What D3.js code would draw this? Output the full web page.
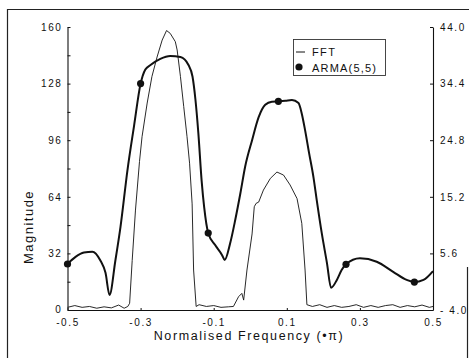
<!DOCTYPE html>
<html><head><meta charset="utf-8">
<script src="https://cdn.jsdelivr.net/npm/d3@7"></script>
<style>
html,body{margin:0;padding:0;background:#fff;}
svg{display:block;font-family:"Liberation Sans",Arial,sans-serif;}
</style></head>
<body><svg id="c" width="469" height="358"></svg>
<script>
// ---- data ----
const armaFreq = [-0.5,-0.478,-0.455,-0.432,-0.41,-0.396,-0.385,-0.369,-0.355,-0.336,-0.318,-0.3,-0.287,-0.273,-0.246,-0.219,-0.191,-0.169,-0.158,-0.15,-0.142,-0.133,-0.126,-0.115,-0.096,-0.077,-0.07,-0.055,-0.041,-0.027,-0.014,0.005,0.023,0.041,0.059,0.077,0.096,0.114,0.132,0.141,0.15,0.161,0.173,0.182,0.196,0.21,0.221,0.237,0.25,0.262,0.3,0.346,0.391,0.428,0.449,0.474,0.5];
const armaMag  = [26,30,32.5,33,28,21,8.5,28,47,79,104,128,136,138.5,142,143.6,143,138.5,132,119,100,73,58,43.5,36.7,31,28.3,37.7,51,66,81,96,109,116,117.8,118,118.3,118.7,117,111,101.7,88.7,75,62,43,26.4,12.6,17,22.6,25.8,29.2,27.3,21.6,17,15.8,17,22];
const markerFreq = [-0.5,-0.3,-0.115,0.077,0.262,0.449];
const markerMag  = [26,128,43.5,118,25.8,15.8];
const fftFreq = [-0.5,-0.48,-0.46,-0.44,-0.42,-0.4,-0.38,-0.36,-0.345,-0.335,-0.33,-0.323,-0.314,-0.303,-0.296,-0.282,-0.269,-0.255,-0.241,-0.229,-0.219,-0.205,-0.2,-0.191,-0.182,-0.173,-0.166,-0.159,-0.155,-0.148,-0.14,-0.12,-0.1,-0.08,-0.06,-0.046,-0.032,-0.023,-0.018,-0.009,0.005,0.011,0.016,0.023,0.036,0.055,0.073,0.091,0.109,0.128,0.141,0.15,0.155,0.17,0.19,0.21,0.23,0.25,0.27,0.29,0.31,0.33,0.35,0.37,0.39,0.41,0.43,0.45,0.47,0.49,0.5];
const fftMag  = [1.5,2.5,1.5,2,1,1.8,1.2,2.8,1,2,3.8,28,56.5,84,98,117,132,143,152.6,158,156.4,151.7,147,132,115,98,83,60,22.6,2,3,2,2.5,1.5,1.8,2,7.5,9.4,5.6,22.6,43,58.4,60.3,61,67.8,74.4,78,76.3,70.7,63,49,22.6,3,2,3,1.5,2.5,1.5,2,3,1.5,2.5,1.5,2.5,3,1.5,2.5,1.8,2.8,1.5,2];
const xTicks = [-0.5,-0.3,-0.1,0.1,0.3,0.5];
const yTicksLeft = [0,16,32,48,64,80,96,112,128,144,160];
const yTicksRight = [-4.0,5.6,15.2,24.8,34.4,44.0];
const seriesNames = ["FFT","ARMA(5,5)"];

// ---- layout ----
const svg = d3.select("#c");
const L=67.5, R=433, T=27, B=310;
const x = d3.scaleLinear().domain([-0.5,0.5]).range([L,R]);
const y = d3.scaleLinear().domain([0,160]).range([B,T]);
const y2 = d3.scaleLinear().domain([-4,44]).range([B,T]);
const ink = "#111";

// outer frame (scanned figure border)
svg.append("path").attr("d",`M7.5,358 V9.5 H469`).attr("fill","none").attr("stroke","#222").attr("stroke-width",1.2);
svg.append("path").attr("d",`M467.5,267 V358`).attr("fill","none").attr("stroke","#222").attr("stroke-width",1.2);

function styleAxis(g){
  g.select(".domain").attr("stroke",ink).attr("stroke-width",1.1);
  g.selectAll(".tick line").attr("stroke",ink);
  g.selectAll(".tick text").attr("fill",ink).attr("font-size",10).attr("letter-spacing",1.6)
    .attr("font-family","Liberation Sans, Arial, sans-serif");
}
const gl = svg.append("g").attr("transform",`translate(${L},0)`)
  .call(d3.axisLeft(y).tickValues(yTicksLeft).tickSizeInner(-3).tickSizeOuter(0).tickPadding(5)
    .tickFormat(d=> d%32===0 ? d : ""));
styleAxis(gl);
gl.selectAll(".tick text").filter(d=>d===0).attr("dy","0.2em");
const gr = svg.append("g").attr("transform",`translate(${R},0)`)
  .call(d3.axisRight(y2).tickValues(yTicksRight).tickSizeInner(-3).tickSizeOuter(0).tickPadding(7)
    .tickFormat(d=> d<0 ? "- " + Math.abs(d).toFixed(1) : d.toFixed(1)));
styleAxis(gr);
const gb = svg.append("g").attr("transform",`translate(0,${B})`)
  .call(d3.axisBottom(x).tickValues(xTicks).tickSizeInner(-2).tickSizeOuter(0).tickPadding(9)
    .tickFormat(d=> d<0 ? "-" + Math.abs(d).toFixed(1) : d.toFixed(1)));
styleAxis(gb);

// axis titles
svg.append("text").attr("transform","translate(33,227) rotate(-90)").attr("text-anchor","middle")
  .attr("font-size",13).attr("letter-spacing",1.5).attr("fill",ink).text("Magnitude");
svg.append("text").attr("x",249).attr("y",340).attr("text-anchor","middle")
  .attr("font-size",12.5).attr("letter-spacing",1.6).attr("fill",ink).text("Normalised Frequency (•π)");

// FFT line
const fftData = fftFreq.map((f,i)=>[f,fftMag[i]]);
svg.append("path").datum(fftData)
  .attr("d", d3.line().x(d=>x(d[0])).y(d=>y(d[1])).curve(d3.curveLinear))
  .attr("fill","none").attr("stroke",ink).attr("stroke-width",0.9);

// ARMA line
const armaData = armaFreq.map((f,i)=>[f,armaMag[i]]);
svg.append("path").datum(armaData)
  .attr("d", d3.line().x(d=>x(d[0])).y(d=>y(d[1])).curve(d3.curveMonotoneX))
  .attr("fill","none").attr("stroke",ink).attr("stroke-width",2);
svg.append("g").selectAll("circle").data(markerFreq.map((f,i)=>[f,markerMag[i]])).join("circle")
  .attr("cx",d=>x(d[0])).attr("cy",d=>y(d[1])).attr("r",3.6).attr("fill",ink);

// legend
const lg = svg.append("g");
lg.append("rect").attr("x",293.5).attr("y",39.5).attr("width",92).attr("height",36)
  .attr("fill","#fff").attr("stroke","#333").attr("stroke-width",0.9);
lg.append("line").attr("x1",296).attr("x2",305).attr("y1",52).attr("y2",52).attr("stroke",ink).attr("stroke-width",1);
lg.append("text").attr("x",312).attr("y",56).attr("font-size",11).attr("letter-spacing",1.4).attr("fill",ink).text(seriesNames[0]);
lg.append("circle").attr("cx",299).attr("cy",67).attr("r",3.6).attr("fill",ink);
lg.append("text").attr("x",312).attr("y",71.5).attr("font-size",11).attr("letter-spacing",1.2).attr("fill",ink).text(seriesNames[1]);
</script></body></html>
